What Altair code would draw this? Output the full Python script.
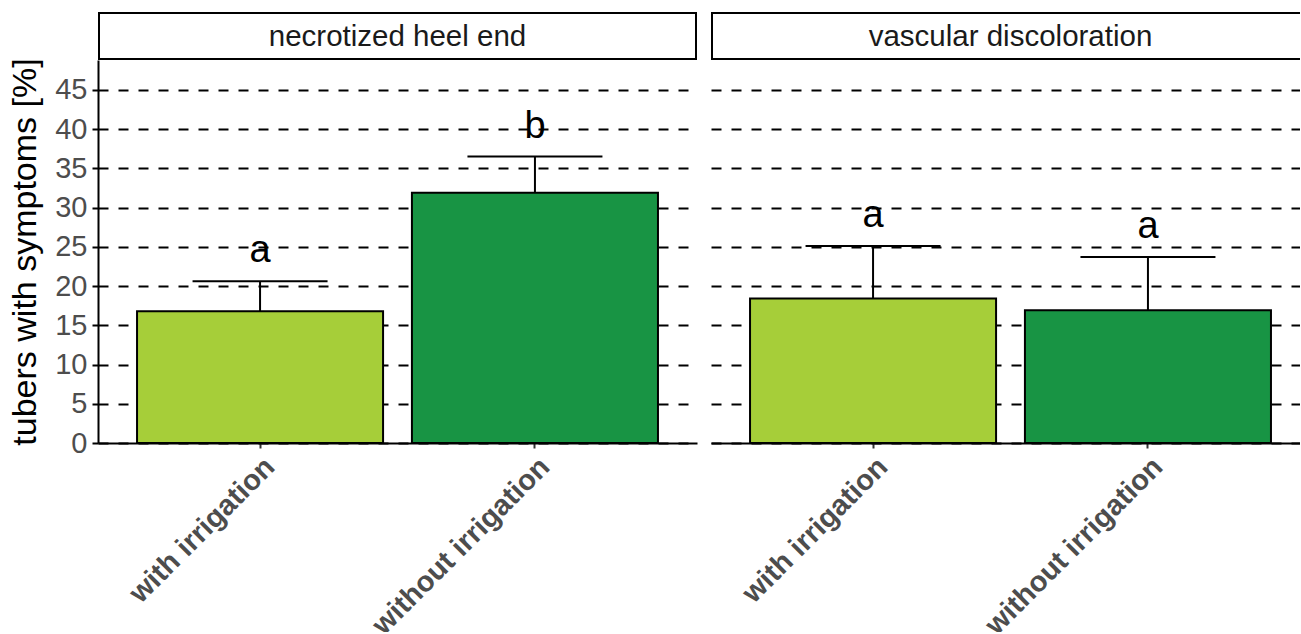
import altair as alt
import pandas as pd

# Mean share of tubers with symptoms, upper error limit and significance letters
panels = ["necrotized heel end", "necrotized heel end",
          "vascular discoloration", "vascular discoloration"]
treatments = ["with irrigation", "without irrigation",
              "with irrigation", "without irrigation"]
means = [16.8, 31.9, 18.4, 16.9]
uppers = [20.6, 36.5, 25.1, 23.7]
letters = ["a", "b", "a", "a"]

panel_names = ["necrotized heel end", "vascular discoloration"]
treatment_order = ["with irrigation", "without irrigation"]
fill_colors = ["#A6CE39", "#189444"]
y_ticks = [0, 5, 10, 15, 20, 25, 30, 35, 40, 45]

df = pd.DataFrame({
    "panel": panels,
    "treatment": treatments,
    "mean": means,
    "upper": uppers,
    "letter": letters,
})

FONT = "Liberation Sans"
Y_MAX = 48.8
PLOT_W = 599
PLOT_H = 383
HEADER_H = 48
GRID_DASH = [10, 10]


def header(name):
    hdf = pd.DataFrame({"panel": [name]})
    box = alt.Chart(hdf).mark_rect(
        fill="white", stroke="black", strokeWidth=2, clip=True
    ).encode(
        x=alt.value(1), x2=alt.value(PLOT_W - 1),
        y=alt.value(1), y2=alt.value(HEADER_H - 1),
    )
    txt = alt.Chart(hdf).mark_text(
        font=FONT, fontSize=29.5, color="#1A1A1A", baseline="middle", align="center"
    ).encode(
        x=alt.value(PLOT_W / 2), y=alt.value(HEADER_H / 2 + 1), text="panel:N"
    )
    return alt.layer(box, txt).properties(width=PLOT_W, height=HEADER_H)


def panel(name, first):
    sub = df[df["panel"] == name]
    xscale = alt.Scale(domain=treatment_order, paddingInner=0.105, paddingOuter=0.142)
    xaxis = alt.Axis(
        title=None, labelAngle=-45, labelAlign="right", labelBaseline="top",
        labelFont=FONT, labelFontSize=29, labelFontWeight="bold",
        labelColor="#4D4D4D", labelPadding=4, labelLimit=400,
        tickColor="#333333", tickSize=5, tickWidth=2,
        domainColor="black", domainWidth=2,
    )
    if first:
        yaxis = alt.Axis(
            values=y_ticks, title="tubers with symptoms [%]",
            titleFont=FONT, titleFontSize=34, titleFontWeight="normal",
            titleColor="black", titlePadding=12,
            labelFont=FONT, labelFontSize=29, labelColor="#4D4D4D",
            labelPadding=5, tickColor="black", tickSize=6, tickWidth=2,
            domainColor="black", domainWidth=2,
            grid=True, gridColor="black", gridWidth=2, gridDash=GRID_DASH,
        )
    else:
        yaxis = alt.Axis(
            values=y_ticks, title=None, labels=False, ticks=False, domain=False,
            grid=True, gridColor="black", gridWidth=2, gridDash=GRID_DASH,
        )
    yscale = alt.Scale(domain=[0, Y_MAX], nice=False, zero=True)
    x = alt.X("treatment:N", sort=treatment_order, scale=xscale, axis=xaxis)

    base = alt.Chart(sub)
    err = base.mark_rule(color="black", strokeWidth=2, opacity=1).encode(
        x=x, y=alt.Y("mean:Q", scale=yscale, axis=yaxis), y2="upper:Q"
    )
    cap = base.mark_tick(color="black", thickness=2, size=135, orient="horizontal",
                         opacity=1).encode(
        x=x, y=alt.Y("upper:Q", scale=yscale, axis=yaxis)
    )
    bars = base.mark_bar(stroke="black", strokeWidth=2, opacity=1).encode(
        x=x, y=alt.Y("mean:Q", scale=yscale, axis=yaxis),
        color=alt.Color("treatment:N", scale=alt.Scale(domain=treatment_order, range=fill_colors),
                        legend=None),
    )
    lab = base.mark_text(font=FONT, fontSize=38, color="black",
                         baseline="alphabetic", dy=-19).encode(
        x=x, y=alt.Y("upper:Q", scale=yscale, axis=yaxis), text="letter:N"
    )
    plot = alt.layer(err, cap, bars, lab).properties(width=PLOT_W, height=PLOT_H)
    # header strip sits directly on top of the plot area
    return alt.vconcat(header(name), plot, spacing=0, bounds="flush")


left = panel(panel_names[0], True)
right = panel(panel_names[1], False)

chart = alt.hconcat(left, right, spacing=14).properties(
    padding={"left": 8, "top": 12, "right": -10, "bottom": -8},
    background="white",
).configure_view(stroke=None)

chart.save("out.html", embed_options={"renderer": "svg", "actions": False})
